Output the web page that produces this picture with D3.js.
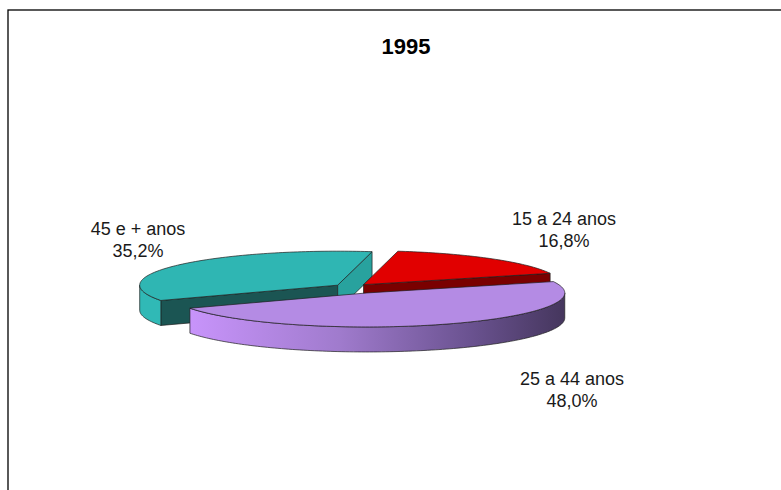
<!DOCTYPE html>
<html><head><meta charset="utf-8">
<script src="https://cdn.jsdelivr.net/npm/d3@7"></script>
<style>html,body{margin:0;padding:0;background:#fff;}svg{display:block;}</style>
</head><body>
<script>
// ---- data ----
const title = "1995";
const categories = ["15 a 24 anos", "25 a 44 anos", "45 e + anos"];
const values = [16.8, 48.0, 35.2];
const valueLabels = ["16,8%", "48,0%", "35,2%"];

// ---- style / layout ----
const W = 781, H = 490;
const topColors = ["#e10000", "#b48be4", "#2fb6b3"];
const cutStartColors = ["#b00000", "#5a4678", "#1b5553"];
const cutEndColors = ["#7a0000", "#8a6ab5", "#28a29e"];
const sideColors = ["#a00000", "url(#purpleSide)", "#30b9b6"];
const explode = [0.09, 0.19, 0.09];
const labelPos = [[564, 225], [572, 385], [138, 235]];
const cx0 = 352, cy0 = 287, R = 198, r = 34, depth = 25;
const startDeg = 10;

const svg = d3.select("body").append("svg").attr("width", W).attr("height", H);
const defs = svg.append("defs");

// frame
svg.append("rect").attr("x", 8).attr("y", 10).attr("width", W).attr("height", H)
  .attr("fill", "none").attr("stroke", "#000").attr("stroke-width", 1.3);

svg.append("text").attr("x", 406).attr("y", 54).attr("text-anchor", "middle")
  .attr("font-family", "Liberation Sans, Arial, sans-serif").attr("font-weight", "bold")
  .attr("font-size", 22).attr("fill", "#000").text(title);

const pie = d3.pie().sort(null)
  .startAngle(startDeg * Math.PI / 180)
  .endAngle(startDeg * Math.PI / 180 + 2 * Math.PI);
const arcs = pie(values);

const data = arcs.map((a, i) => {
  const mid = (a.startAngle + a.endAngle) / 2;
  const cx = cx0 + explode[i] * R * Math.sin(mid);
  const cy = cy0 - explode[i] * r * Math.cos(mid);
  return {i, a0: a.startAngle, a1: a.endAngle, mid, cx, cy};
});

const pt = (d, ang, z) => [d.cx + R * Math.sin(ang), d.cy - r * Math.cos(ang) + z];
const line = d3.line();
function samples(a0, a1) {
  const n = Math.max(2, Math.ceil(Math.abs(a1 - a0) / 0.02));
  return d3.range(n + 1).map(k => a0 + (a1 - a0) * k / n);
}

// gradient for purple side
const pd = data[1];
const g = defs.append("linearGradient").attr("id", "purpleSide")
  .attr("gradientUnits", "userSpaceOnUse")
  .attr("x1", pd.cx - R * 0.9).attr("x2", pd.cx + R).attr("y1", 0).attr("y2", 0);
g.append("stop").attr("offset", 0).attr("stop-color", "#c894fb");
g.append("stop").attr("offset", 0.4).attr("stop-color", "#a07bcd");
g.append("stop").attr("offset", 0.75).attr("stop-color", "#6a5290");
g.append("stop").attr("offset", 1).attr("stop-color", "#45365d");

const stroke = "#1e1e1e", sw = 0.7;
// drawing order: back slices first
const order = [2, 0, 1];
order.forEach(i => {
  const d = data[i];
  const grp = svg.append("g");
  // cut faces visible when normal points toward viewer
  [[d.a0, d.a0 - Math.PI / 2, cutStartColors[i]], [d.a1, d.a1 + Math.PI / 2, cutEndColors[i]]].forEach(([ang, nrm, col]) => {
    if (-Math.cos(nrm) > 0) {
      const c0 = [d.cx, d.cy], c1 = [d.cx, d.cy + depth];
      grp.append("path").attr("d", line([c0, pt(d, ang, 0), pt(d, ang, depth), c1]) + "Z")
        .attr("fill", col).attr("stroke", stroke).attr("stroke-width", sw);
    }
  });
  // outer side: visible angles in (90°, 270°) mod 360
  const TAU = 2 * Math.PI;
  for (let k = -1; k <= 1; k++) {
    const lo = Math.max(d.a0, Math.PI / 2 + k * TAU), hi = Math.min(d.a1, 1.5 * Math.PI + k * TAU);
    if (hi > lo) {
      const s = samples(lo, hi);
      const pts = s.map(a => pt(d, a, 0)).concat(s.slice().reverse().map(a => pt(d, a, depth)));
      grp.append("path").attr("d", line(pts) + "Z")
        .attr("fill", sideColors[i]).attr("stroke", stroke).attr("stroke-width", sw);
    }
  }
  // top
  const topPts = [[d.cx, d.cy]].concat(samples(d.a0, d.a1).map(a => pt(d, a, 0)));
  grp.append("path").attr("d", line(topPts) + "Z")
    .attr("fill", topColors[i]).attr("stroke", stroke).attr("stroke-width", sw);
});

// labels
categories.forEach((c, i) => {
  const t = svg.append("text").attr("text-anchor", "middle")
    .attr("font-family", "Liberation Sans, Arial, sans-serif").attr("font-size", 18).attr("fill", "#1a1a1a");
  t.append("tspan").attr("x", labelPos[i][0]).attr("y", labelPos[i][1]).text(c);
  t.append("tspan").attr("x", labelPos[i][0]).attr("y", labelPos[i][1] + 22).text(valueLabels[i]);
});
</script>
</body></html>
